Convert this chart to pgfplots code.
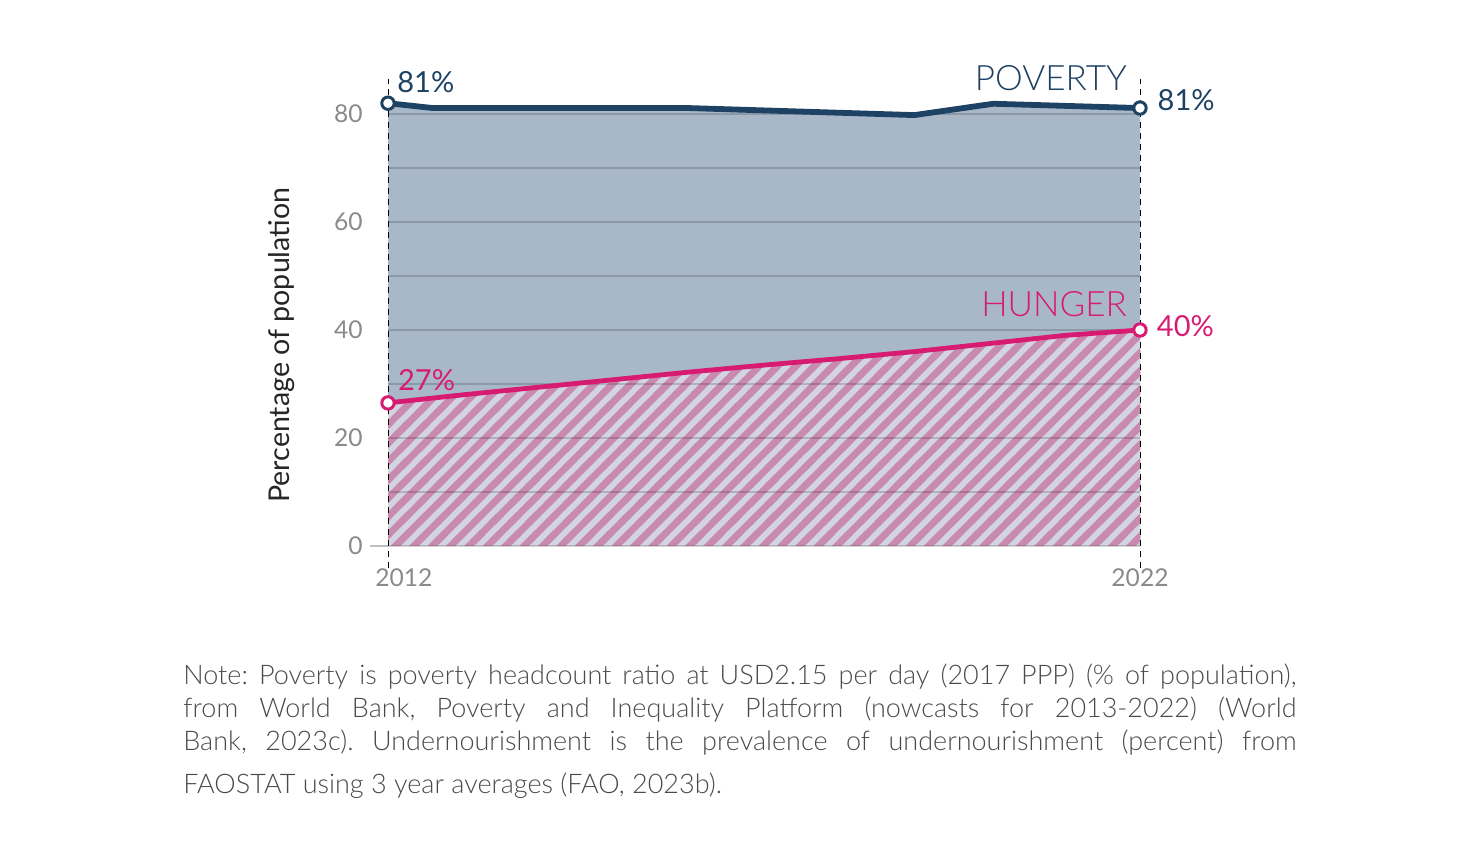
\documentclass[border=0pt]{standalone}
\usepackage{fontspec}
\setmainfont{Lato}
\newfontfamily\lightfont{Lato Light}
\usepackage{pgfplots}
\pgfplotsset{compat=1.18}
\usetikzlibrary{patterns}
\definecolor{povline}{HTML}{1E4263}
\definecolor{povfill}{HTML}{A8B8C8}
\definecolor{hunline}{HTML}{D81B72}
\definecolor{hunhatch}{HTML}{C98AAF}
\definecolor{hunbg}{HTML}{D3D4E2}
\definecolor{tickgray}{HTML}{8A8A8A}
\definecolor{notegray}{HTML}{4A4A4A}
\pgfdeclarepatternformonly{hstripes}{\pgfpoint{-1pt}{-1pt}}{\pgfpoint{10.19pt}{10.19pt}}{\pgfpoint{9.19pt}{9.19pt}}{
  \pgfsetlinewidth{3.4pt}
  \pgfpathmoveto{\pgfpoint{-3pt}{-3pt}}\pgfpathlineto{\pgfpoint{13pt}{13pt}}
  \pgfpathmoveto{\pgfpoint{-3pt}{6.19pt}}\pgfpathlineto{\pgfpoint{13pt}{22.19pt}}
  \pgfpathmoveto{\pgfpoint{6.19pt}{-3pt}}\pgfpathlineto{\pgfpoint{22.19pt}{13pt}}
  \pgfusepath{stroke}
}
\frenchspacing
\begin{document}
\begin{tikzpicture}
\begin{axis}[
  at={(194pt,161pt)}, anchor=south west,
  scale only axis, width=376pt, height=237.6pt,
  xmin=2012, xmax=2022, ymin=0, ymax=88,
  set layers, clip=false,
  axis line style={draw=none},
  xtick=\empty,
  ytick={0,20,40,60,80}, minor ytick={10,30,50,70},
  ymajorgrids, yminorgrids,
  major grid style={draw=black, opacity=0.16, line width=0.6pt},
  minor grid style={draw=black, opacity=0.16, line width=0.6pt},
  major tick length=0pt, minor tick length=0pt,
  yticklabel style={font=\fontsize{12.3}{12.3}\selectfont, text=tickgray, inner sep=0pt, xshift=-12.5pt},
  /pgf/number format/assume math mode=true,
]
% poverty area
\addplot[draw=none, fill=povfill, on layer=axis background] coordinates {
  (2012,82.0) (2012.6,81.1) (2016.0,81.1) (2019.0,79.8) (2020.05,81.9) (2022,81.1)
} \closedcycle;
% hunger area (light fill with diagonal stripes)
\addplot[draw=none, fill=hunbg, on layer=axis background,
  postaction={pattern=hstripes, pattern color=hunhatch}] coordinates {
  (2012,26.5) (2013,28.0) (2014,29.4) (2015,30.8) (2016,32.2) (2017,33.5)
  (2018,34.7) (2019,36.0) (2020,37.5) (2021,39.0) (2022,40.0)
} \closedcycle;

% zero tick extension
\draw[black!25, line width=0.6pt] ([xshift=-9pt]axis cs:2012,0) -- (axis cs:2012,0);
% dashed verticals
\draw[black, line width=0.5pt, dash pattern=on 3pt off 2.5pt] (axis cs:2012,-4) -- (axis cs:2012,86.5);
\draw[black, line width=0.5pt, dash pattern=on 3pt off 2.5pt] (axis cs:2022,-4) -- (axis cs:2022,86.5);

% lines
\addplot[povline, line width=2.9pt, line join=round, mark=none] coordinates {
  (2012,82.0) (2012.6,81.1) (2016.0,81.1) (2019.0,79.8) (2020.05,81.9) (2022,81.1)
};
\addplot[hunline, line width=2.4pt, line join=round, mark=none] coordinates {
  (2012,26.5) (2013,28.0) (2014,29.4) (2015,30.8) (2016,32.2) (2017,33.5)
  (2018,34.7) (2019,36.0) (2020,37.5) (2021,39.0) (2022,40.0)
};
% end markers
\addplot[only marks, mark=*, mark size=3.1pt, mark options={draw=povline, fill=white, line width=1.5pt}] coordinates {(2012,82.0) (2022,81.1)};
\addplot[only marks, mark=*, mark size=3.1pt, mark options={draw=hunline, fill=white, line width=1.5pt}] coordinates {(2012,26.5) (2022,40.0)};

% labels
\node[anchor=west, inner sep=0pt, text=povline, font=\fontsize{14.5}{14.5}\selectfont] at (axis cs:2012.12,85.9) {81\%};
\node[anchor=west, inner sep=0pt, text=povline, font=\fontsize{14.5}{14.5}\selectfont] at (axis cs:2022.23,82.6) {81\%};
\node[anchor=east, inner sep=0pt, text=povline, font=\lightfont\fontsize{17.5}{17.5}\selectfont] at (axis cs:2021.83,86.7) {POVERTY};
\node[anchor=east, inner sep=0pt, text=hunline, font=\lightfont\fontsize{17.5}{17.5}\selectfont] at (axis cs:2021.83,44.8) {HUNGER};
\node[anchor=west, inner sep=0pt, text=hunline, font=\fontsize{14.5}{14.5}\selectfont] at (axis cs:2022.22,40.7) {40\%};
\node[anchor=west, inner sep=0pt, text=hunline, font=\fontsize{14.5}{14.5}\selectfont] at (axis cs:2012.13,30.7) {27\%};
\node[inner sep=0pt, text=tickgray, font=\fontsize{12.3}{12.3}\selectfont] at (axis cs:2012.21,-5.9) {2012};
\node[inner sep=0pt, text=tickgray, font=\fontsize{12.3}{12.3}\selectfont] at (axis cs:2022,-5.9) {2022};
\node[rotate=90, inner sep=0pt, text=black!85, font=\fontsize{14.3}{14.3}\selectfont] at ([xshift=-53pt]axis cs:2012,37.2) {Percentage of population};
\end{axis}

\begin{scope}[every node/.style={anchor=base west, inner sep=0pt, text=notegray, font=\lightfont\fontsize{13.5}{16}\selectfont}]
\node at (91.5pt,91.5pt) {\makebox[556.5pt][s]{Note: Poverty is poverty headcount ratio at USD2.15 per day (2017 PPP) (\% of population),}};
\node at (91.5pt,75pt) {\makebox[556.5pt][s]{from World Bank, Poverty and Inequality Platform (nowcasts for 2013-2022) (World}};
\node at (91.5pt,58.5pt) {\makebox[556.5pt][s]{Bank, 2023c). Undernourishment is the prevalence of undernourishment (percent) from}};
\node at (91.5pt,37pt) {FAOSTAT using 3 year averages (FAO, 2023b).};
\end{scope}
\path (0,0) rectangle (740pt,434pt);
\end{tikzpicture}
\end{document}
